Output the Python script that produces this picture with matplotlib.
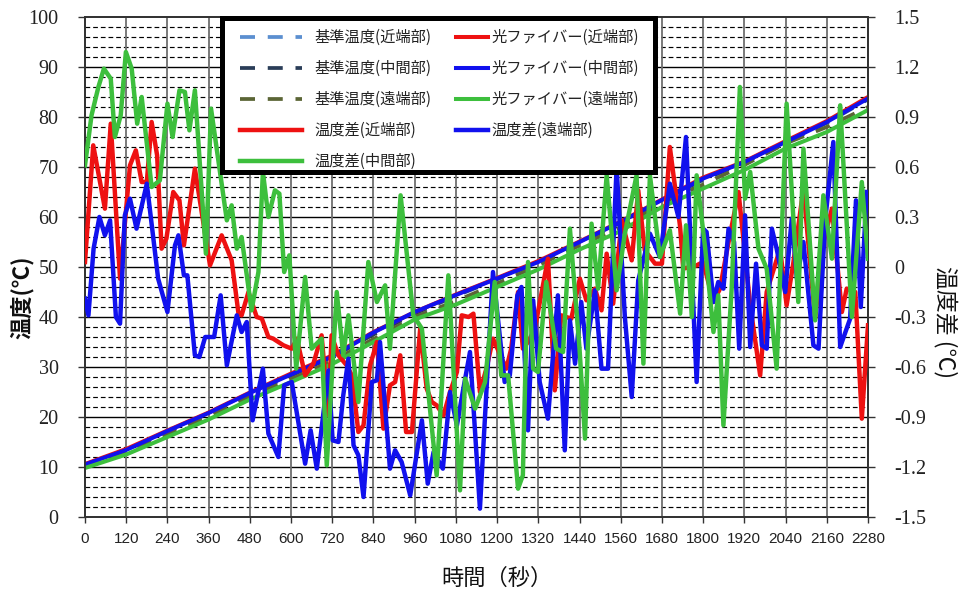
import numpy as np
import matplotlib
matplotlib.use("Agg")
import matplotlib.pyplot as plt
from matplotlib.patches import Rectangle
from matplotlib.ticker import FuncFormatter

plt.rcParams['font.family'] = ['Noto Sans CJK JP', 'DejaVu Sans']

# ---------------- data ----------------
t_ramp = [0, 120, 240, 360, 480, 600, 720, 840, 960, 1080, 1200, 1320, 1440, 1560,
          1680, 1800, 1920, 2040, 2160, 2280]
ref_near = [10.4, 13.5, 17.0, 20.6, 24.6, 28.4, 32.1, 36.6, 40.6, 44.2, 47.5, 50.9,
            54.8, 58.8, 63.2, 67.4, 70.8, 74.8, 78.8, 83.5]
ref_mid = [10.5, 13.3, 17.1, 20.7, 24.7, 28.3, 32.0, 36.5, 40.7, 44.3, 47.6, 51.0,
           54.9, 58.9, 63.3, 67.5, 70.9, 74.9, 78.9, 83.6]
ref_far = [10.2, 13.0, 16.6, 20.1, 24.1, 27.6, 31.2, 35.6, 40.0, 43.2, 46.7, 50.3,
           54.3, 57.9, 62.8, 66.5, 70.4, 74.7, 78.0, 82.0]
fiber_near = [10.6, 13.6, 17.3, 20.9, 24.9, 28.7, 32.3, 37.0, 41.0, 44.5, 47.8, 51.2,
              55.1, 59.1, 63.5, 67.9, 71.1, 75.2, 79.2, 84.0]
fiber_mid = [10.5, 13.4, 17.2, 20.8, 24.8, 28.5, 32.1, 36.9, 41.0, 44.4, 47.7, 51.0,
             55.0, 59.0, 63.4, 67.7, 71.0, 75.0, 79.0, 83.7]
fiber_far = [9.8, 12.5, 16.0, 19.5, 23.5, 27.0, 30.6, 35.0, 39.5, 42.5, 46.0, 49.5,
             53.5, 57.2, 62.0, 65.7, 69.4, 73.7, 77.0, 81.4]

# temperature difference, near end (red)
t_diff_near = [0, 24, 58, 75, 102, 131, 148, 165, 180, 194, 210, 223, 237, 257, 275, 288,
               320, 364, 398, 427, 447, 456, 476, 500, 515, 534, 548, 578, 602, 617, 641,
               665, 689, 709, 718, 738, 762, 777, 796, 811, 830, 850, 869, 888, 903, 918,
               935, 952, 976, 995, 1010, 1024, 1044, 1063, 1083, 1097, 1117, 1131, 1150,
               1170, 1188, 1227, 1241, 1261, 1275, 1290, 1310, 1348, 1368, 1387, 1416,
               1441, 1460, 1485, 1504, 1519, 1538, 1563, 1592, 1611, 1630, 1660, 1680,
               1703, 1733, 1742, 1781, 1800, 1830, 1849, 1874, 1903, 1937, 1966, 1985,
               2024, 2043, 2063, 2092, 2126, 2150, 2175, 2204, 2218, 2243, 2262, 2280]
diff_near = [0.03, 0.73, 0.35, 0.86, -0.07, 0.61, 0.70, 0.51, 0.51, 0.87, 0.67, 0.11, 0.17,
             0.45, 0.40, 0.13, 0.59, 0.01, 0.19, 0.04, -0.28, -0.29, -0.15, -0.30, -0.31,
             -0.42, -0.43, -0.47, -0.49, -0.43, -0.65, -0.58, -0.41, -0.89, -0.41, -0.53,
             -0.59, -0.65, -0.99, -0.95, -0.59, -0.45, -0.97, -0.71, -0.69, -0.53, -0.99,
             -0.99, -0.37, -0.73, -0.81, -0.83, -0.89, -0.75, -0.63, -0.29, -0.30, -0.28,
             -0.75, -0.60, -0.43, -0.61, -0.49, -0.15, -0.49, -0.45, -0.37, 0.05, -0.74,
             -0.29, -0.31, -0.07, -0.20, -0.13, -0.26, 0.08, -0.22, 0.28, 0.04, 0.46,
             0.10, 0.02, 0.02, 0.72, 0.24, -0.01, 0.01, 0.03, -0.21, -0.13, 0.15, 0.45,
             -0.23, -0.65, -0.15, 0.11, -0.23, 0.03, 0.47, -0.31, 0.15, 0.35, -0.27,
             -0.13, -0.15, -0.91, -0.35]

# temperature difference, middle (green)
t_diff_mid = [0, 19, 39, 55, 75, 87, 104, 119, 136, 152, 165, 194, 218, 240, 255, 275, 291,
              304, 320, 352, 367, 413, 427, 442, 456, 485, 505, 518, 534, 553, 566, 580,
              595, 615, 641, 660, 689, 704, 733, 752, 767, 796, 825, 850, 874, 888, 919,
              956, 981, 1024, 1058, 1092, 1107, 1136, 1165, 1193, 1212, 1232, 1261, 1275,
              1290, 1305, 1319, 1343, 1372, 1392, 1412, 1440, 1456, 1475, 1494, 1519,
              1548, 1572, 1606, 1626, 1645, 1674, 1703, 1733, 1750, 1767, 1781, 1806,
              1830, 1844, 1859, 1883, 1907, 1922, 1937, 1961, 1985, 2014, 2043, 2077,
              2092, 2126, 2150, 2175, 2199, 2233, 2262, 2280]
diff_mid = [0.61, 0.91, 1.08, 1.19, 1.13, 0.78, 0.91, 1.29, 1.19, 0.86, 1.02, 0.48, 0.52,
            0.98, 0.78, 1.06, 1.05, 0.82, 1.06, 0.08, 0.95, 0.28, 0.37, 0.11, 0.18, -0.26,
            -0.03, 0.57, 0.30, 0.46, 0.44, -0.03, 0.07, -0.61, -0.06, -0.49, -0.43, -1.19,
            -0.15, -0.53, -0.29, -0.81, 0.03, -0.21, -0.11, -0.49, 0.43, -0.29, -0.37,
            -1.25, -0.05, -1.34, -0.67, -0.85, -0.69, -0.09, -0.65, -0.65, -1.33, -1.25,
            0.03, -0.61, -0.63, -0.09, -0.49, -0.51, 0.23, -0.49, -1.03, 0.26, -0.13,
            0.55, -0.14, 0.20, 0.55, -0.58, 0.55, 0.06, 0.22, -0.28, 0.25, -0.30, 0.55,
            0.11, -0.39, -0.17, -0.95, -0.13, 1.08, 0.41, 0.57, 0.11, -0.01, -0.61, 0.98,
            -0.21, 0.71, -0.32, 0.43, 0.05, 0.97, -0.30, 0.51, 0.05]

# temperature difference, far end (blue)
t_diff_far = [0, 10, 25, 42, 58, 73, 90, 102, 116, 131, 150, 180, 213, 240, 262, 272, 288,
              298, 320, 333, 350, 376, 395, 413, 442, 456, 471, 488, 518, 534, 563, 580,
              602, 641, 657, 675, 709, 721, 738, 752, 767, 782, 796, 811, 835, 850, 859,
              888, 903, 922, 947, 981, 998, 1015, 1042, 1063, 1083, 1100, 1121, 1150,
              1188, 1222, 1237, 1259, 1271, 1290, 1305, 1324, 1348, 1377, 1397, 1412,
              1427, 1445, 1460, 1485, 1504, 1523, 1548, 1572, 1592, 1611, 1645, 1674,
              1703, 1728, 1750, 1781, 1800, 1810, 1830, 1844, 1859, 1874, 1890, 1905,
              1922, 1937, 1954, 1971, 1985, 2000, 2014, 2039, 2058, 2073, 2092, 2121,
              2136, 2155, 2179, 2199, 2228, 2245, 2259, 2276]
diff_far = [-0.19, -0.29, 0.11, 0.30, 0.19, 0.28, -0.30, -0.34, 0.31, 0.41, 0.23, 0.50,
            -0.07, -0.27, 0.13, 0.19, -0.05, -0.05, -0.53, -0.54, -0.42, -0.42, -0.17,
            -0.59, -0.29, -0.39, -0.33, -0.92, -0.61, -1.00, -1.14, -0.71, -0.69, -1.18,
            -0.98, -1.21, -0.62, -1.04, -1.05, -0.77, -0.55, -1.07, -1.13, -1.38, -0.69,
            -0.68, -0.45, -1.21, -1.10, -1.17, -1.37, -0.92, -1.30, -1.11, -1.21, -0.75,
            -0.95, -0.75, -0.51, -1.45, -0.03, -0.69, -0.65, -0.17, -0.12, -0.98, -0.20,
            -0.69, -0.91, -0.17, -1.10, -0.32, -0.58, -0.21, -0.49, -0.14, -0.61, -0.61,
            0.60, -0.30, -0.78, -0.08, 0.20, 0.06, 0.50, 0.30, 0.78, -0.69, 0.23, 0.21,
            -0.21, -0.09, -0.13, 0.23, 0.15, -0.49, 0.31, -0.48, 0.02, -0.47, -0.49, 0.23,
            0.11, -0.15, 0.29, -0.07, 0.15, -0.47, -0.49, 0.27, 0.75, -0.48, -0.31, 0.40,
            -0.24, 0.45]

x_ticks = list(range(0, 2281, 120))
left_ticks = list(range(0, 101, 10))
right_ticks = [-1.5, -1.2, -0.9, -0.6, -0.3, 0.0, 0.3, 0.6, 0.9, 1.2, 1.5]

# ---------------- figure ----------------
W, H = 959, 592
fig = plt.figure(figsize=(W / 100, H / 100), dpi=100)
L, R, T, B = 85, 868, 17, 517
ax = fig.add_axes([L / W, 1 - B / H, (R - L) / W, (B - T) / H])
ax2 = ax.twinx()

c_red = '#ee1111'
c_blue = '#1111ee'
c_green = '#3dbf3d'
c_lblue = '#5b8fd0'
c_navy = '#2a3d58'
c_olive = '#5b6535'

dash = (0, (4, 3.4))
lr = 2.7
ld = 3.2

l_rn, = ax.plot(t_ramp, ref_near, color=c_lblue, lw=lr, ls=dash, zorder=3)
l_rm, = ax.plot(t_ramp, ref_mid, color=c_navy, lw=lr, ls=dash, zorder=3)
l_rf, = ax.plot(t_ramp, ref_far, color=c_olive, lw=lr, ls=dash, zorder=3)
l_fn, = ax.plot(t_ramp, fiber_near, color=c_red, lw=2.9, zorder=4)
l_fm, = ax.plot(t_ramp, fiber_mid, color=c_blue, lw=2.9, zorder=4)
l_ff, = ax.plot(t_ramp, fiber_far, color=c_green, lw=2.9, zorder=4)

l_dn, = ax2.plot(t_diff_near, diff_near, color=c_red, lw=ld, zorder=3)
l_df, = ax2.plot(t_diff_far, diff_far, color=c_blue, lw=ld, zorder=4)
l_dm, = ax2.plot(t_diff_mid, diff_mid, color=c_green, lw=ld, zorder=5)

ax.set_xlim(0, 2280)
ax.set_ylim(0, 100)
ax2.set_ylim(-1.5, 1.5)

# grid
for v in range(2, 100, 2):
    if v % 10:
        ax.axhline(v, color='black', lw=0.85, ls=(0, (4, 2.5)), zorder=1)
for v in range(10, 100, 10):
    ax.axhline(v, color='black', lw=1.0, zorder=1)
for v in x_ticks[1:-1]:
    ax.axvline(v, color='#6e6e6e', lw=1.3, zorder=1)

ax.set_xticks(x_ticks)
ax.set_yticks(left_ticks)
ax2.set_yticks(right_ticks)
ax2.yaxis.set_major_formatter(FuncFormatter(lambda v, p: '0' if abs(v) < 1e-9 else ('%.1f' % v)))

for a in (ax, ax2):
    for s in a.spines.values():
        s.set_color('#333333')
        s.set_linewidth(1.3)

ax.tick_params(axis='y', direction='out', length=5, width=1, pad=14, labelsize=14.5,
               colors='#333333', labelcolor='#222222')
ax2.tick_params(axis='y', direction='out', length=5, width=1, pad=14, labelsize=14.5,
                colors='#333333', labelcolor='#222222')
ax.tick_params(axis='x', direction='out', length=4, width=1, pad=7, labelsize=11,
               colors='#333333', labelcolor='#222222')
for lab in ax.get_yticklabels() + ax2.get_yticklabels():
    lab.set_family('Liberation Serif')
for lab in ax.get_xticklabels():
    lab.set_family('Liberation Sans')

# axis titles
fig.text(22 / W, 1 - 297 / H, '温度(℃)', rotation=90, ha='center', va='center',
         fontsize=16, fontweight='bold', color='#111111')
fig.text(945 / W, 1 - 322 / H, '温度差 (℃)', rotation=270, ha='center', va='center',
         fontsize=16.5, color='#111111')
fig.text(497 / W, 1 - 578 / H, '時間（秒）', ha='center', va='center', fontsize=16,
         color='#111111')

# legend frame
x0, y0, x1, y1 = 222, 18, 655, 172
rect = Rectangle((x0 / W, 1 - y1 / H), (x1 - x0) / W, (y1 - y0) / H,
                 transform=fig.transFigure, facecolor='white', edgecolor='black',
                 linewidth=3.6, zorder=5)
fig.add_artist(rect)

fs = 11
leg1 = fig.legend([l_rn, l_rm, l_rf, l_dn, l_dm],
                  ['基準温度(近端部)', '基準温度(中間部)', '基準温度(遠端部)',
                   '温度差(近端部)', '温度差(中間部)'],
                  loc='upper left', bbox_to_anchor=(240 / W, 1 - 29 / H),
                  frameon=False, fontsize=fs, handlelength=4.05, handletextpad=0.85,
                  labelspacing=0.92, borderpad=0, borderaxespad=0)
leg1.set_zorder(6)
leg2 = fig.legend([l_fn, l_fm, l_ff, l_df],
                  ['光ファイバー(近端部)', '光ファイバー(中間部)', '光ファイバー(遠端部)',
                   '温度差(遠端部)'],
                  loc='upper left', bbox_to_anchor=(456 / W, 1 - 29 / H),
                  frameon=False, fontsize=fs, handlelength=2.1, handletextpad=0.2,
                  labelspacing=0.92, borderpad=0, borderaxespad=0)
leg2.set_zorder(6)
for lg in (leg1, leg2):
    for t in lg.get_texts():
        t.set_color('#222222')

fig.savefig('out.png', dpi=100, facecolor='white')
